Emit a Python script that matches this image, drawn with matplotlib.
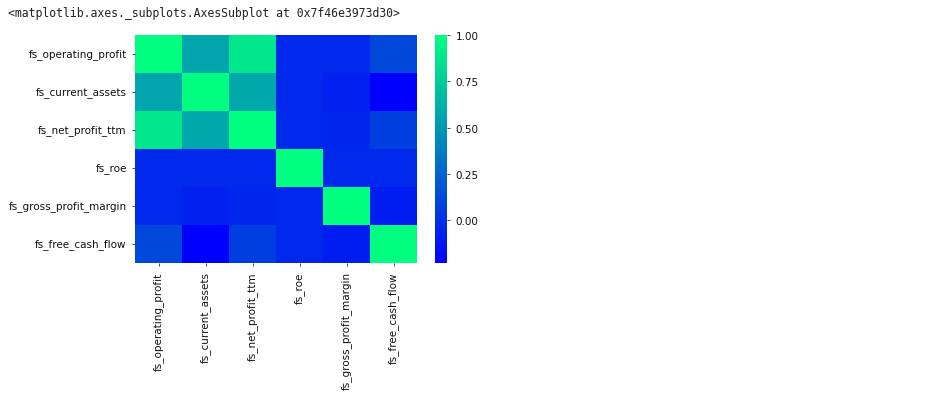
import matplotlib
matplotlib.use("Agg")
import matplotlib.pyplot as plt
import seaborn as sns
import numpy as np
import pandas as pd

factors = ["fs_operating_profit", "fs_current_assets", "fs_net_profit_ttm",
           "fs_roe", "fs_gross_profit_margin", "fs_free_cash_flow"]

# correlation values
row_operating_profit = [1.00, 0.57, 0.88, -0.03, -0.04, 0.12]
row_current_assets = [0.57, 1.00, 0.58, -0.03, -0.07, -0.23]
row_net_profit_ttm = [0.88, 0.58, 1.00, -0.03, -0.05, 0.07]
row_roe = [-0.03, -0.03, -0.03, 1.00, -0.03, -0.04]
row_gross_profit_margin = [-0.04, -0.07, -0.05, -0.03, 1.00, -0.09]
row_free_cash_flow = [0.12, -0.23, 0.07, -0.04, -0.09, 1.00]

corr = pd.DataFrame([row_operating_profit, row_current_assets, row_net_profit_ttm,
                     row_roe, row_gross_profit_margin, row_free_cash_flow],
                    index=factors, columns=factors)

W, H = 939, 402
fig = plt.figure(figsize=(W / 100, H / 100), dpi=100)
ax = fig.add_axes([135 / W, 1 - 264 / H, 282 / W, 228 / H])
cax = fig.add_axes([435 / W, 1 - 264 / H, 12 / W, 228 / H])

sns.heatmap(corr, cmap="winter", ax=ax, cbar_ax=cax)

ax.tick_params(labelsize=7.5, length=2.5, width=0.6, colors="#333333")
cax.tick_params(labelsize=7.5, length=2.5, width=0.6, colors="#333333")
cax.set_yticks([0.0, 0.25, 0.5, 0.75, 1.0])
for lab in ax.get_xticklabels() + ax.get_yticklabels() + cax.get_yticklabels():
    lab.set_color("#111111")

fig.text(8 / W, 1 - 13 / H, "<matplotlib.axes._subplots.AxesSubplot at 0x7f46e3973d30>",
         family="DejaVu Sans Mono", fontsize=8.3, va="center", ha="left", color="#222222")

fig.savefig("out.png", dpi=100)
